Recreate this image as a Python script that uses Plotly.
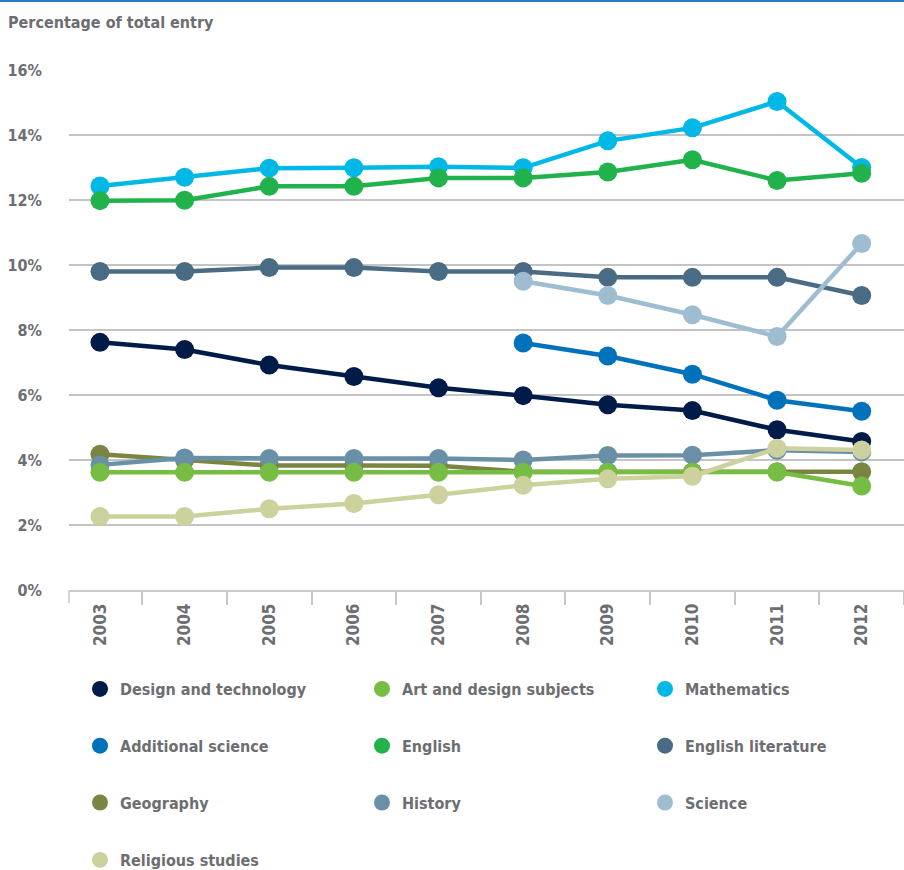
import plotly.graph_objects as go

years = ["2003", "2004", "2005", "2006", "2007", "2008", "2009", "2010", "2011", "2012"]

design_tech = [7.62, 7.40, 6.92, 6.57, 6.22, 5.98, 5.70, 5.52, 4.93, 4.57]
art_design = [3.62, 3.62, 3.62, 3.62, 3.62, 3.62, 3.62, 3.62, 3.63, 3.20]
mathematics = [12.43, 12.70, 12.98, 12.99, 13.02, 12.99, 13.82, 14.22, 15.03, 13.00]
additional_science = [None, None, None, None, None, 7.60, 7.20, 6.64, 5.84, 5.50]
english = [11.98, 11.99, 12.42, 12.42, 12.68, 12.68, 12.86, 13.24, 12.60, 12.82]
english_lit = [9.80, 9.80, 9.92, 9.92, 9.80, 9.80, 9.62, 9.62, 9.62, 9.06]
geography = [4.18, 4.00, 3.83, 3.83, 3.82, 3.64, 3.63, 3.63, 3.64, 3.64]
history = [3.85, 4.06, 4.05, 4.05, 4.05, 4.00, 4.14, 4.15, 4.30, 4.25]
science = [None, None, None, None, None, 9.50, 9.06, 8.47, 7.80, 10.66]
religious = [2.26, 2.26, 2.50, 2.66, 2.93, 3.22, 3.42, 3.50, 4.36, 4.31]

y_ticks = [0, 2, 4, 6, 8, 10, 12, 14, 16]
y_tick_labels = [f"{v}%" for v in y_ticks]

series = [
    # name, values, colour, legend, rank
    ("Design and technology", design_tech, "#001b48", "legend", 1),
    ("Additional science", additional_science, "#0072bc", "legend", 2),
    ("Mathematics", mathematics, "#00b8e6", "legend3", 1),
    ("English", english, "#21b24b", "legend2", 2),
    ("English literature", english_lit, "#4a6b84", "legend3", 2),
    ("Science", science, "#9fbdd1", "legend3", 3),
    ("Geography", geography, "#7b8542", "legend", 3),
    ("History", history, "#6a90a8", "legend2", 3),
    ("Art and design subjects", art_design, "#77bd43", "legend2", 1),
    ("Religious studies", religious, "#cdd19e", "legend4", 1),
]

fig = go.Figure()
for name, vals, col, leg, rank in series:
    fig.add_trace(go.Scatter(
        x=years, y=vals, mode="lines+markers", name=name,
        line=dict(color=col, width=4.5),
        marker=dict(color=col, size=19),
        showlegend=False, connectgaps=False,
    ))
for name, vals, col, leg, rank in series:
    fig.add_trace(go.Scatter(
        x=[years[0]], y=[None], mode="markers", name=name,
        marker=dict(color=col, size=18),
        legend=leg, legendrank=rank, legendgroup=name,
        showlegend=True, hoverinfo="skip",
    ))

FONT = "DejaVu Sans Condensed, sans-serif"
GREY = "#6d6e71"
FS = 16

legend_common = dict(
    xref="container", yref="container", xanchor="left", yanchor="top",
    orientation="v", tracegroupgap=33, bgcolor="rgba(0,0,0,0)",
    font=dict(family=FONT, size=FS, color=GREY, weight="bold"),
    itemclick=False, itemdoubleclick=False,
)

fig.update_layout(
    width=904, height=870,
    margin=dict(l=69, r=0, t=70, b=280, autoexpand=False),
    paper_bgcolor="white", plot_bgcolor="white",
    font=dict(family=FONT, size=FS, color=GREY, weight="bold"),
    title=dict(text="Percentage of total entry", x=0, xanchor="left",
               y=1-22/870, yanchor="middle", xref="container", yref="container",
               pad=dict(l=8, r=0, t=0, b=0),
               font=dict(family=FONT, size=FS, color=GREY, weight="bold")),
    xaxis=dict(
        type="category", range=[-0.366, 9.5], tickangle=-90,
        tickson="boundaries", ticks="outside", ticklen=13, tickcolor="#c8c8c8", tickwidth=1.5,
        showline=True, linecolor="#cccccc", linewidth=1.5, showgrid=False,
        ticklabelstandoff=5,
        tickfont=dict(family=FONT, size=17, color=GREY, weight="bold"),
        fixedrange=True,
    ),
    yaxis=dict(
        range=[0, 16], tickvals=y_ticks, ticktext=y_tick_labels,
        showgrid=True, gridcolor="#c4c4c4", gridwidth=1.5, zeroline=False,
        ticks="", ticklabelstandoff=26,
        tickfont=dict(family=FONT, size=FS, color=GREY, weight="bold"),
        fixedrange=True,
    ),
    legend=dict(x=80/904, y=1-672/870, **legend_common),
    legend2=dict(x=362/904, y=1-672/870, **legend_common),
    legend3=dict(x=645/904, y=1-672/870, **legend_common),
    legend4=dict(x=80/904, y=1-843/870, **legend_common),
    shapes=[
        dict(type="line", xref="paper", yref="paper", x0=-69/835, x1=1,
             y0=(590-1)/520, y1=(590-1)/520, line=dict(color="#2d7cc1", width=2)),
        dict(type="line", xref="paper", yref="paper", x0=0, x1=0,
             y0=0, y1=-13/520, line=dict(color="#c8c8c8", width=1.5)),
    ],
)

fig.write_html("out.html", config={"displayModeBar": False},
               post_script="document.body.style.margin='0px';")
